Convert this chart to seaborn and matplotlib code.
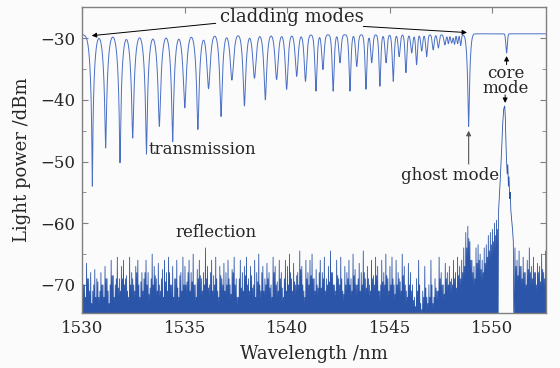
import numpy as np
import pandas as pd
import matplotlib
matplotlib.use("Agg")
import matplotlib.pyplot as plt
import seaborn as sns
from matplotlib.ticker import MultipleLocator

# ---------------- data ----------------
# transmission dips: centre wavelength (nm), minimum level (dBm), width (nm)
dip_wl = [1530.48, 1531.13, 1531.83, 1532.45, 1533.12, 1533.75, 1534.40, 1534.99,
          1535.63, 1536.15, 1536.76, 1537.29, 1537.90, 1538.39, 1538.92, 1539.47,
          1539.96, 1540.45, 1540.88, 1541.39, 1541.73, 1542.23, 1542.56, 1543.05,
          1543.38, 1543.83, 1544.11, 1544.51, 1544.81, 1545.16, 1545.45, 1545.78,
          1546.06, 1546.30, 1546.55, 1546.79, 1547.11, 1547.36, 1547.68, 1548.01,
          1547.85, 1548.15, 1548.30, 1548.45, 1548.84, 1550.69]
dip_db = [-54.0, -47.8, -50.2, -46.2, -48.8, -44.3, -46.8, -41.3,
          -44.8, -38.2, -42.7, -36.8, -41.0, -36.5, -40.0, -36.7,
          -38.3, -36.2, -37.0, -38.6, -35.1, -38.6, -34.0, -38.6,
          -34.6, -38.3, -34.0, -37.8, -34.0, -37.0, -33.0, -35.6,
          -32.4, -34.3, -32.1, -33.0, -31.9, -31.6, -31.1, -30.8,
          -30.9, -31.0, -30.9, -31.2, -44.3, -32.4]
dip_w = [0.14, 0.14, 0.14, 0.14, 0.14, 0.14, 0.135, 0.13,
         0.13, 0.115, 0.115, 0.11, 0.11, 0.105, 0.105, 0.10,
         0.095, 0.09, 0.085, 0.075, 0.07, 0.07, 0.065, 0.065,
         0.065, 0.065, 0.06, 0.06, 0.06, 0.06, 0.055, 0.055,
         0.055, 0.05, 0.05, 0.05, 0.05, 0.05, 0.05, 0.045,
         0.035, 0.035, 0.035, 0.035, 0.09, 0.04]
base_before_ghost = -29.45
base_after_ghost = -29.3
ghost_wl = 1548.84

# reflection noise: tall spikes every 0.1 nm from 1530.0 to 1550.2 nm
refl_start = 1530.0
refl_top = [
    -67, -70, -66.5, -69, -68, -71, -67.5, -69, -72, -68,
    -70, -67, -69, -73, -66, -68.5, -70, -65.5, -69, -67,
    -66, -69, -71, -65.5, -68, -70, -67, -66, -72, -68,
    -69, -66, -68, -70.5, -65, -67, -69, -66.5, -71, -67.5,
    -66, -68, -65.5, -70, -67, -69, -66, -72, -68, -65.5,
    -67, -69.5, -66, -68, -65, -70, -67.5, -66, -69, -68,
    -64, -67, -70, -66, -68.5, -65.5, -71, -67, -69, -66.5,
    -68, -66, -70, -67.5, -65.5, -69, -72, -66, -68, -67,
    -65.5, -69, -67, -70.5, -66, -68, -65, -71, -67, -69,
    -66.5, -68, -70, -65.5, -67, -69.5, -66, -68, -72, -66,
    -67, -65, -69, -66.5, -70, -68, -64.5, -67, -71, -66,
    -68, -66, -65, -69, -67.5, -70.5, -66, -68, -65.5, -69,
    -67, -64.5, -68, -70, -66, -69, -65.5, -71, -67, -68,
    -66, -69, -65, -67.5, -70, -66.5, -68, -64.5, -69, -67,
    -70, -66, -68.5, -65.5, -67, -71, -66, -68, -65, -69,
    -67, -65.5, -70, -66, -68, -69.5, -65, -67, -71, -66.5,
    -68, -70, -72, -69, -66, -73, -71, -67, -72, -70,
    -66, -73, -69, -71, -65.5, -68, -70, -66.5, -68, -67,
    -69, -66, -68, -65.5, -67, -66, -64, -61.5, -60.5, -63,
    -66, -67, -64, -63.5, -65, -66, -64, -63.5, -62, -61.5,
    -61, -60, -59.5]
# reflection noise: lower spikes in between (0.05 nm after each tall one)
refl_mid = [
    -70, -72, -69, -71, -73, -70, -72, -69.5, -71, -70,
    -72, -69, -71, -70, -68.5, -72, -69, -70.5, -71, -69,
    -70, -68.5, -72, -70, -69, -71, -68, -70, -69.5, -71,
    -68, -70, -71.5, -69, -70, -68.5, -71, -70, -69, -72,
    -69.5, -71, -68, -70, -72, -69, -70.5, -68.5, -71, -70,
    -70, -68, -71, -69.5, -70, -72, -69, -68.5, -71, -70,
    -69, -70.5, -68, -71, -70, -69, -72, -68.5, -70, -71,
    -70, -69, -71.5, -68, -70, -72, -69, -70.5, -71, -68.5,
    -70, -71, -68.5, -70, -72, -69.5, -70, -68, -71, -70,
    -69, -70.5, -72, -68, -70, -71, -69, -70.5, -69, -71,
    -70, -68, -71, -69.5, -68.5, -70, -67.5, -70, -72, -69,
    -70, -68.5, -69, -71, -70, -68, -70.5, -69, -71, -70,
    -69.5, -68, -70, -71, -68.5, -70, -69, -71.5, -70, -69,
    -70, -71, -68.5, -70, -69, -71, -70, -68, -70.5, -69,
    -71, -69, -70, -68.5, -71, -70, -69.5, -70, -68.5, -71,
    -70, -69, -71.5, -70, -69, -71, -68.5, -70, -72, -70,
    -71, -72.5, -73.5, -71, -70, -74, -72, -70.5, -73, -72,
    -70, -72, -70.5, -71, -69, -70, -71.5, -69, -70, -69.5,
    -70, -69, -70.5, -68.5, -69, -68, -67, -64, -62.5, -66,
    -68, -69, -66.5, -66, -67.5, -68, -66.5, -65.5, -64.5, -63.5,
    -63, -62, -61]
# reflection peak of the core mode
core_wl = [1550.30, 1550.38, 1550.45, 1550.50, 1550.55, 1550.60, 1550.63, 1550.66,
           1550.69, 1550.72, 1550.75, 1550.78, 1550.81, 1550.84, 1550.87, 1550.90,
           1550.94, 1550.98, 1551.02]
core_db = [-58, -53, -48, -44, -41.5, -41, -43, -47,
           -50, -52, -50.5, -54, -52.5, -56, -55, -58,
           -59.5, -61, -63]
# reflection noise after the core peak, every 0.1 nm from 1551.1 nm
refl_right_start = 1551.1
refl_right_top = [-64, -66, -64.5, -67, -65.5, -68, -66, -64, -67, -65.5,
                  -68, -66.5, -67, -65, -68, -64.5]
refl_right_mid = [-67, -68.5, -67, -69, -68, -70, -67.5, -68, -69, -68,
                  -70, -68, -69.5, -67.5, -69, -68]
refl_floor = -80

x_ticks = [1530, 1535, 1540, 1545, 1550]
y_ticks = [-70, -60, -50, -40, -30]

# ---------------- build traces ----------------
wl = np.arange(1530.0, 1552.7, 0.002)
T = np.ones_like(wl)
for c, d, w in zip(dip_wl, dip_db, dip_w):
    base = base_before_ghost if c <= ghost_wl else base_after_ghost
    a = 1 - 10 ** ((d - base) / 10)
    T *= 1 - a * np.exp(-0.5 * ((wl - c) / w) ** 2)
base_arr = np.where(wl < ghost_wl, base_before_ghost, base_after_ghost)
trans = base_arr + 10 * np.log10(T)
df_t = pd.DataFrame({"wl": wl, "p": trans})

rx, ry = [], []
for i, (t, m) in enumerate(zip(refl_top, refl_mid)):
    l = refl_start + 0.1 * i
    rx += [l, l + 0.025, l + 0.05, l + 0.075]
    ry += [t, refl_floor, m, refl_floor]
rx += core_wl
ry += core_db
rx += [1551.05]
ry += [refl_floor]
for i, (t, m) in enumerate(zip(refl_right_top, refl_right_mid)):
    l = refl_right_start + 0.1 * i
    rx += [l, l + 0.025, l + 0.05, l + 0.075]
    ry += [t, refl_floor, m, refl_floor]
df_r = pd.DataFrame({"wl": rx, "p": ry})

# ---------------- plot ----------------
sns.set_style("ticks")
plt.rcParams["font.family"] = ["DejaVu Serif"]
plt.rcParams["axes.unicode_minus"] = True

fig = plt.figure(figsize=(5.6, 3.68), dpi=100, facecolor="#fbfbfb")
ax = fig.add_axes([0.1473, 0.1503, 0.8272, 0.8299])
ax.set_facecolor("#fbfbfb")

sns.lineplot(data=df_r, x="wl", y="p", sort=False, estimator=None,
             color="#2b55a8", lw=0.6, ax=ax)
sns.lineplot(data=df_t, x="wl", y="p", sort=False, estimator=None,
             color="#4a6fc4", lw=0.7, ax=ax)

ax.set_xlim(1530, 1552.6)
ax.set_ylim(-74.5, -25)
ax.set_xticks(x_ticks)
ax.set_yticks(y_ticks)
ax.yaxis.set_minor_locator(MultipleLocator(5))
ax.tick_params(which="both", direction="in", top=True, right=True,
               labelsize=12, color="#808080")
ax.tick_params(which="major", length=4, pad=5)
ax.tick_params(which="minor", length=3)
for s in ax.spines.values():
    s.set_color("#808080")
    s.set_linewidth(1.0)
ax.set_xlabel("Wavelength /nm", fontsize=13, labelpad=6)
ax.set_ylabel("Light power /dBm", fontsize=13, labelpad=7)

arrow = dict(arrowstyle="-|>", color="black", lw=0.7, mutation_scale=7,
             shrinkA=0, shrinkB=0)
ax.text(1540.2, -26.6, "cladding modes", fontsize=13, ha="center", va="center")
ax.annotate("", xy=(1530.45, -29.6), xytext=(1536.5, -27.6), arrowprops=arrow)
ax.annotate("", xy=(1548.76, -29.1), xytext=(1543.7, -28.1), arrowprops=arrow)

ax.text(1550.66, -36.9, "core\nmode", fontsize=12, ha="center", va="center",
        linespacing=0.85)
ax.annotate("", xy=(1550.69, -32.9), xytext=(1550.69, -34.3), arrowprops=arrow)
ax.annotate("", xy=(1550.62, -40.5), xytext=(1550.62, -39.2), arrowprops=arrow)

ax.text(1547.93, -52.2, "ghost mode", fontsize=12, ha="center", va="center")
ax.annotate("", xy=(1548.84, -45.0), xytext=(1548.84, -50.4),
            arrowprops=dict(arrowstyle="-|>", color="#555555", lw=0.8,
                            mutation_scale=7, shrinkA=0, shrinkB=0))

ax.text(1533.2, -48.0, "transmission", fontsize=12, ha="left", va="center")
ax.text(1536.5, -61.5, "reflection", fontsize=12, ha="center", va="center")

fig.savefig("out.png", dpi=100, facecolor=fig.get_facecolor())
